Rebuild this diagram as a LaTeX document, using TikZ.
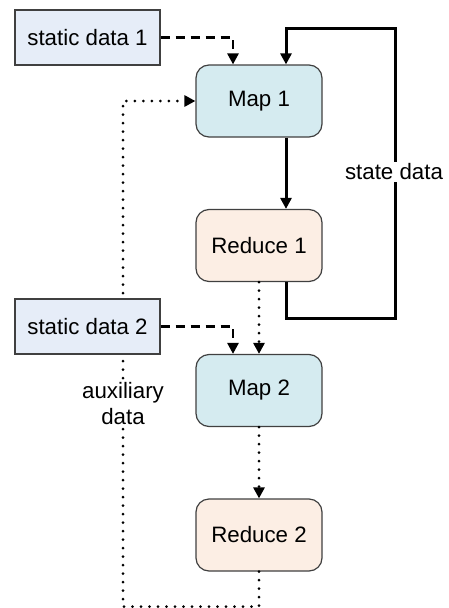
\documentclass[tikz,border=0pt]{standalone}
\usepackage{fontspec}
\setmainfont{Liberation Sans}
\usetikzlibrary{arrows.meta}

\definecolor{staticfill}{HTML}{E6EDF8}
\definecolor{mapfill}{HTML}{D5EBF0}
\definecolor{reducefill}{HTML}{FCEEE4}
\definecolor{boxline}{HTML}{404040}

\tikzset{
  lbl/.style={font=\fontsize{22.3}{26}\selectfont},
  staticbox/.style={lbl, draw=boxline, line width=1.2pt, fill=staticfill,
    minimum width=145pt, minimum height=55pt, inner sep=0pt},
  stagebox/.style={lbl, draw=boxline, line width=1.2pt, rounded corners=13pt,
    minimum width=126pt, minimum height=72pt, inner sep=0pt},
  mapbox/.style={stagebox, fill=mapfill},
  reducebox/.style={stagebox, fill=reducefill},
  tip/.style={-{Triangle[length=11pt,width=11pt]}},
  solidflow/.style={tip, line width=3pt},
  dashflow/.style={tip, line width=2.6pt, dash pattern=on 9pt off 6pt},
  dotflow/.style={tip, line width=3pt, line cap=round, dash pattern=on 0pt off 8.5pt},
  gaplabel/.style={lbl, fill=white, inner sep=2pt, align=center},
}

\begin{document}
\begin{tikzpicture}[x=1pt, y=-1pt]
  \useasboundingbox (0,0) rectangle (449,608);

  % stages of the two iterations
  \node[mapbox]    (map1)    at (259,101)   {Map 1};
  \node[reducebox] (reduce1) at (259,245.5) {Reduce 1};
  \node[mapbox]    (map2)    at (259,390.5) {Map 2};
  \node[reducebox] (reduce2) at (259,535)   {Reduce 2};

  % auxiliary data fed back from the last reduce to the first map
  \draw[dotflow] (reduce2.south) -- ++(0,35) -| (123,101) -- (map1.west);
  \node[gaplabel] (auxlbl) at (123,404) {auxiliary\\data};

  % static inputs
  \node[staticbox] (static1) at (87.5,37.5)  {static data 1};
  \node[staticbox] (static2) at (87.5,326.5) {static data 2};

  \draw[dashflow] (static1.east) -| ([xshift=-26pt]map1.north);
  \draw[dashflow] (static2.east) -| ([xshift=-26pt]map2.north);

  % first iteration with its state loop
  \draw[solidflow] ([xshift=27pt]map1.south) -- ([xshift=27pt]reduce1.north);
  \draw[solidflow] ([xshift=27pt]reduce1.south) -- ++(0,36.5) -| (395,28)
    -| ([xshift=27pt]map1.north);
  \node[gaplabel] (statelbl) at (394,172) {state data};

  % second iteration
  \draw[dotflow] (reduce1.south) -- (map2.north);
  \draw[dotflow] (map2.south) -- (reduce2.north);
\end{tikzpicture}
\end{document}
